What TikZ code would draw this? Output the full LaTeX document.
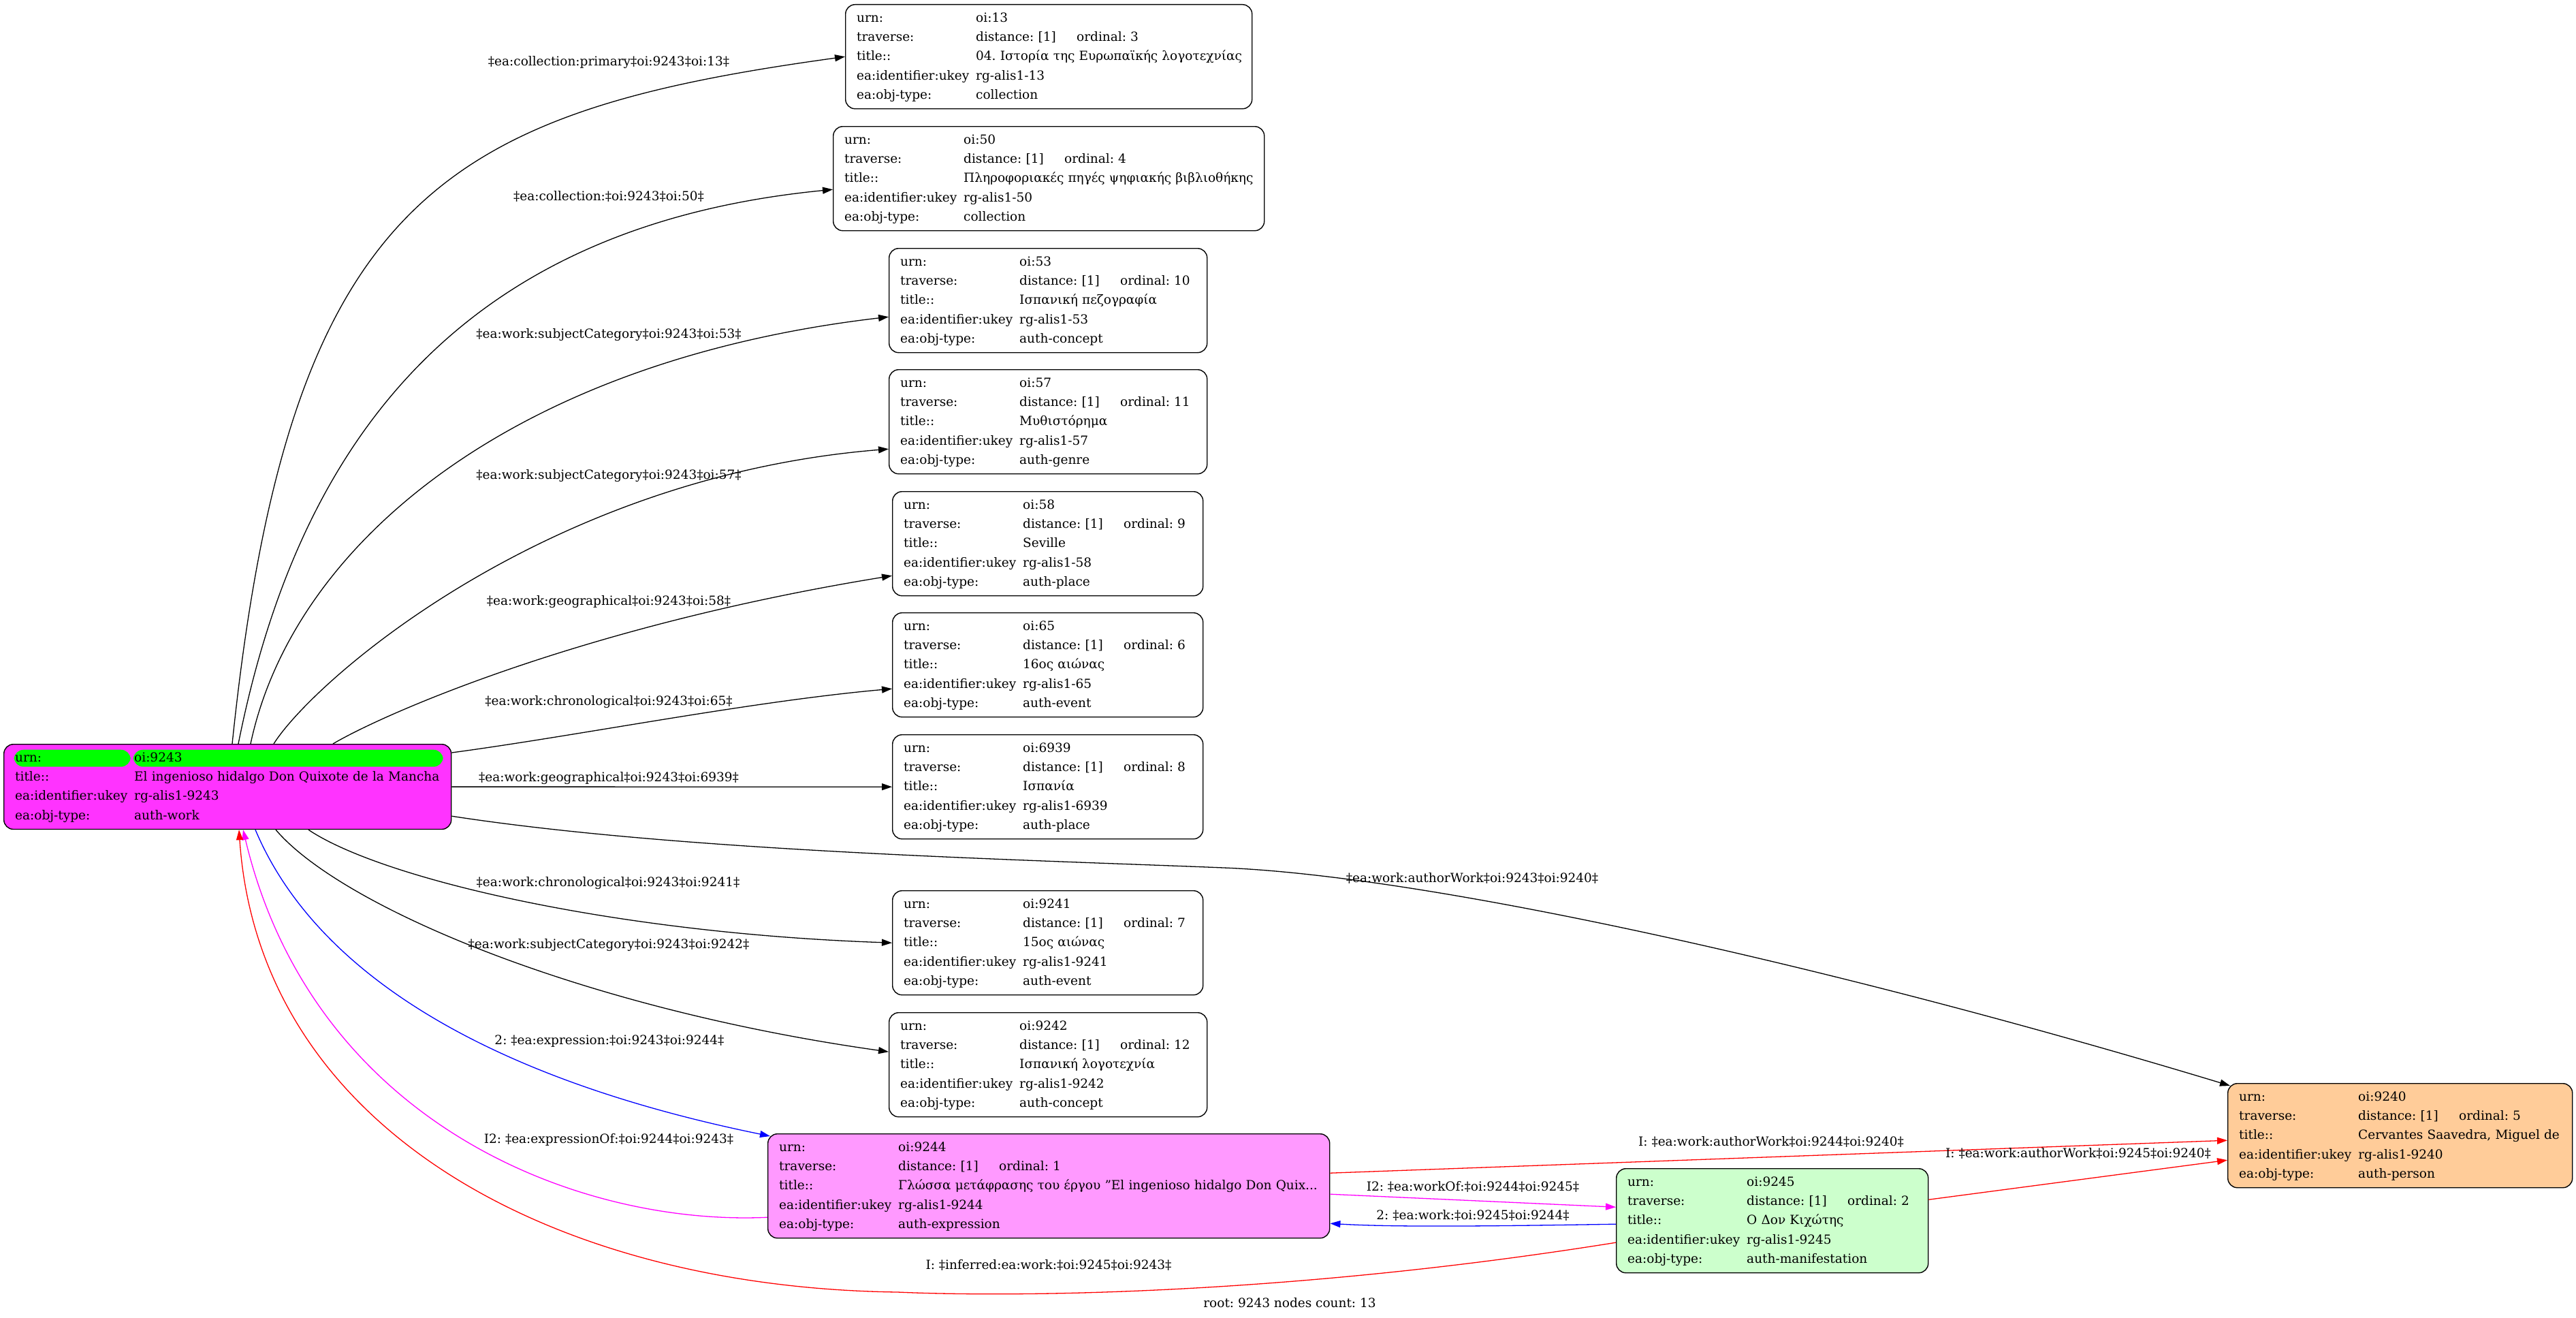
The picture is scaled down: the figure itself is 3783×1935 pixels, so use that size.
\documentclass[tikz,border=0pt]{standalone}
\usepackage{fontspec}
\setmainfont{DejaVu Serif}
\usetikzlibrary{arrows.meta,calc}
\definecolor{rootpink}{HTML}{FF33FF}
\definecolor{exppink}{HTML}{FF99FF}
\definecolor{manigreen}{HTML}{CCFFCC}
\definecolor{personorange}{HTML}{FFCC99}
\definecolor{hlgreen}{HTML}{00FF00}
\definecolor{edgered}{HTML}{FF0000}
\definecolor{edgemag}{HTML}{FF00FF}
\definecolor{edgeblue}{HTML}{0000FF}
\newcommand{\gfont}{\fontsize{18.5}{28.2}\selectfont\frenchspacing}
\newcommand{\ordcell}[1]{\makebox[148pt][l]{distance: [1]}ordinal: #1}
\newcommand{\recrows}[5]{\begin{tabular}{@{}p{175pt}@{}l@{}}
urn: & #1\\
traverse: & \ordcell{#2}\\
title:: & #3\\
ea:identifier:ukey & #4\\
ea:obj-type: & #5
\end{tabular}}
\begin{document}
\frenchspacing
\begin{tikzpicture}[x=1pt,y=-1pt,
  rec/.style={draw, line width=1.4pt, rounded corners=14pt, anchor=north west,
    inner xsep=16.5pt, inner ysep=6pt, align=left, font=\gfont},
  lab/.style={font=\gfont, inner sep=0pt},
  tipstyle/.style={-{Triangle[length=15pt,width=10pt]}},
  blk/.style={tipstyle, line width=1.3pt, draw=black},
  redge/.style={tipstyle, line width=1.3pt, draw=edgered},
  medge/.style={tipstyle, line width=1.3pt, draw=edgemag},
  bedge/.style={tipstyle, line width=1.3pt, draw=edgeblue}]
\useasboundingbox (0,0) rectangle (3783,1935);

% nodes
\node[rec, fill=rootpink, text width=624pt,
  path picture={
    \fill[hlgreen] ($(path picture bounding box.north west)+(15,8)$) rectangle ++(171,25);
    \fill[hlgreen] ($(path picture bounding box.north west)+(190,8)$) rectangle ++(455,25);
  }] (root) at (5,1092) {\begin{tabular}{@{}p{175pt}@{}l@{}}
urn: & oi:9243\\
title:: & El ingenioso hidalgo Don Quixote de la Mancha\\
ea:identifier:ukey & rg-alis1-9243\\
ea:obj-type: & auth-work
\end{tabular}};

\node[rec, text width=564pt] (n13) at (1241,6) {\recrows{oi:13}{3}{04. Ιστορία της Ευρωπαϊκής λογοτεχνίας}{rg-alis1-13}{collection}};
\node[rec, text width=600pt] (n50) at (1223,185) {\recrows{oi:50}{4}{Πληροφοριακές πηγές ψηφιακής βιβλιοθήκης}{rg-alis1-50}{collection}};
\node[rec, text width=434pt] (n53) at (1305,364) {\recrows{oi:53}{10}{Ισπανική πεζογραφία}{rg-alis1-53}{auth-concept}};
\node[rec, text width=434pt] (n57) at (1305,542) {\recrows{oi:57}{11}{Μυθιστόρημα}{rg-alis1-57}{auth-genre}};
\node[rec, text width=423pt] (n58) at (1310,721) {\recrows{oi:58}{9}{Seville}{rg-alis1-58}{auth-place}};
\node[rec, text width=423pt] (n65) at (1310,899) {\recrows{oi:65}{6}{16ος αιώνας}{rg-alis1-65}{auth-event}};
\node[rec, text width=423pt] (n6939) at (1310,1078) {\recrows{oi:6939}{8}{Ισπανία}{rg-alis1-6939}{auth-place}};
\node[rec, text width=423pt] (n9241) at (1310,1307) {\recrows{oi:9241}{7}{15ος αιώνας}{rg-alis1-9241}{auth-event}};
\node[rec, text width=434pt] (n9242) at (1305,1486) {\recrows{oi:9242}{12}{Ισπανική λογοτεχνία}{rg-alis1-9242}{auth-concept}};
\node[rec, fill=exppink, text width=792pt] (n9244) at (1127,1664) {\recrows{oi:9244}{1}{Γλώσσα μετάφρασης του έργου "El ingenioso hidalgo Don Quix...}{rg-alis1-9244}{auth-expression}};
\node[rec, fill=manigreen, text width=425pt] (n9245) at (2373,1715) {\recrows{oi:9245}{2}{Ο Δον Κιχώτης}{rg-alis1-9245}{auth-manifestation}};
\node[rec, fill=personorange, text width=473pt] (n9240) at (3271,1590) {\recrows{oi:9240}{5}{Cervantes Saavedra, Miguel de}{rg-alis1-9240}{auth-person}};

% edges from root (top)
\draw[blk] ($(root.north west)+(336,0)$) .. controls (424,292) and (647,165) .. (n13.west);
\draw[blk] ($(root.north west)+(345,0)$) .. controls (438,651) and (673,332) .. ($(n50.west)+(0,16)$);
\draw[blk] ($(root.north west)+(363,0)$) .. controls (430,800) and (750,530) .. ($(n53.west)+(0,24)$);
\draw[blk] ($(root.north west)+(397,0)$) .. controls (460,1000) and (800,700) .. ($(n57.west)+(0,40)$);
\draw[blk] ($(root.north west)+(484,0)$) .. controls (560,1050) and (850,920) .. ($(n58.west)+(0,47)$);
\draw[blk] ($(root.north east)+(0,13)$) .. controls (850,1080) and (1100,1030) .. ($(n65.west)+(0,35)$);
\draw[blk] (root.east) -- (n6939.west);
\draw[blk] ($(root.south east)+(0,-20)$) .. controls (1000,1250) and (1500,1262) .. (1797,1274)
   .. controls (2100,1286) and (2700,1420) .. ($(n9240.north west)+(4,4)$);
% edges from root (bottom)
\draw[blk] ($(root.south west)+(448,0)$) .. controls (560,1290) and (900,1370) .. (n9241.west);
\draw[blk] ($(root.south west)+(400,0)$) .. controls (500,1330) and (850,1480) .. ($(n9242.west)+(0,-19)$);
\draw[bedge] ($(root.south west)+(370,0)$) .. controls (460,1420) and (700,1580) .. ($(n9244.north west)+(4,4)$);
\draw[medge] ($(n9244.west)+(0,46)$) .. controls (850,1800) and (460,1650) .. ($(root.south west)+(352,0)$);
\draw[redge] ($(n9245.west)+(0,32)$) .. controls (1900,1900) and (1500,1905) .. (1318,1897)
   .. controls (800,1890) and (380,1650) .. ($(root.south west)+(346,0)$);
% edges among 9244 / 9245 / 9240
\draw[redge] ($(n9244.east)+(0,-19)$) -- ($(n9240.west)+(0,7)$);
\draw[medge] ($(n9244.east)+(0,12)$) -- ($(n9245.west)+(0,-20)$);
\draw[bedge] ($(n9245.west)+(0,5)$) .. controls (2200,1800) and (2050,1802) .. ($(n9244.east)+(0,55)$);
\draw[redge] ($(n9245.east)+(0,-31)$) -- ($(n9240.west)+(0,36)$);

% edge labels
\node[lab] (l13) at (894,92) {‡ea:collection:primary‡oi:9243‡oi:13‡};
\node[lab] (l50) at (894,288) {‡ea:collection:‡oi:9243‡oi:50‡};
\node[lab] (l53) at (894,492) {‡ea:work:subjectCategory‡oi:9243‡oi:53‡};
\node[lab] (l57) at (894,699) {‡ea:work:subjectCategory‡oi:9243‡oi:57‡};
\node[lab] (l58) at (894,884) {‡ea:work:geographical‡oi:9243‡oi:58‡};
\node[lab] (l65) at (894,1031) {‡ea:work:chronological‡oi:9243‡oi:65‡};
\node[lab] (l6939) at (894,1143) {‡ea:work:geographical‡oi:9243‡oi:6939‡};
\node[lab] (l9240) at (2162,1289) {‡ea:work:authorWork‡oi:9243‡oi:9240‡};
\node[lab] (l9241) at (893,1297) {‡ea:work:chronological‡oi:9243‡oi:9241‡};
\node[lab] (l9242) at (894,1388) {‡ea:work:subjectCategory‡oi:9243‡oi:9242‡};
\node[lab] (lexp) at (895,1529) {2: ‡ea:expression:‡oi:9243‡oi:9244‡};
\node[lab] (lexpof) at (894,1673) {I2: ‡ea:expressionOf:‡oi:9244‡oi:9243‡};
\node[lab] (linf) at (1540,1857) {I: ‡inferred:ea:work:‡oi:9245‡oi:9243‡};
\node[lab] (law1) at (2601,1676) {I: ‡ea:work:authorWork‡oi:9244‡oi:9240‡};
\node[lab] (lwof) at (2163,1742) {I2: ‡ea:workOf:‡oi:9244‡oi:9245‡};
\node[lab] (lw) at (2163,1784) {2: ‡ea:work:‡oi:9245‡oi:9244‡};
\node[lab] (law2) at (3052,1693) {I: ‡ea:work:authorWork‡oi:9245‡oi:9240‡};
\node[lab] (foot) at (1894,1913) {root: 9243 nodes count: 13};
\end{tikzpicture}
\end{document}
